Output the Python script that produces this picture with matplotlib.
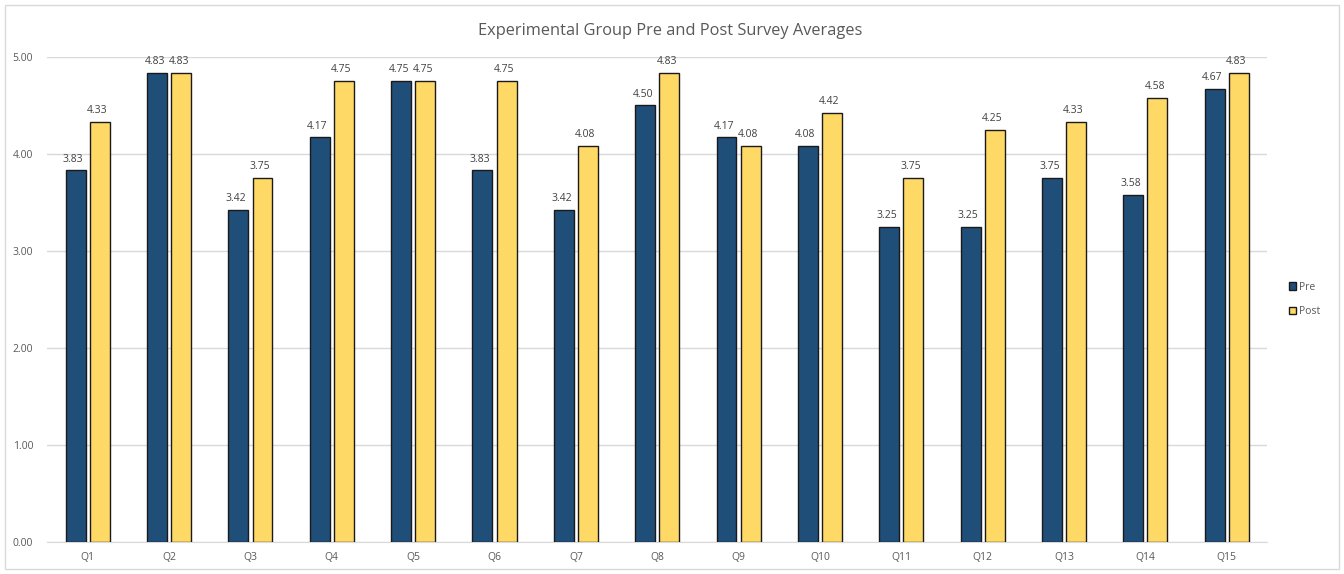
import matplotlib.pyplot as plt
import numpy as np
from matplotlib.patches import Rectangle

questions = [f"Q{i}" for i in range(1, 16)]
pre = [3.83, 4.83, 3.42, 4.17, 4.75, 3.83, 3.42, 4.50, 4.17, 4.08, 3.25, 3.25, 3.75, 3.58, 4.67]
post = [4.33, 4.83, 3.75, 4.75, 4.75, 4.75, 4.08, 4.83, 4.08, 4.42, 3.75, 4.25, 4.33, 4.58, 4.83]

plt.rcParams['font.family'] = ['Open Sans', 'DejaVu Sans']

fig = plt.figure(figsize=(13.44, 5.74), dpi=100)
ax = fig.add_axes([0.035, 0.056, 0.908, 0.845])

x = np.arange(len(questions))
w = 0.245
off = 0.148
text_col = '#595959'

b1 = ax.bar(x - off, pre, w, color='#1F4E79', edgecolor='#1a1a1a', linewidth=1.0, label='Pre', zorder=3)
b2 = ax.bar(x + off, post, w, color='#FFD966', edgecolor='#1a1a1a', linewidth=1.0, label='Post', zorder=3)

for bars, vals in [(b1, pre), (b2, post)]:
    for rect, v in zip(bars, vals):
        ax.text(rect.get_x() + rect.get_width() / 2 - 0.03, v + 0.06, f"{v:.2f}",
                ha='center', va='bottom', fontsize=7.5, color='#404040')

ax.set_xlim(-0.5, len(questions) - 0.5)
ax.set_ylim(0, 5)
ax.set_yticks(np.arange(0, 5.01, 1))
ax.set_yticklabels([f"{t:.2f}" for t in np.arange(0, 5.01, 1)])
ax.set_xticks(x)
ax.set_xticklabels(questions)
ax.tick_params(axis='both', length=0, labelsize=7.5, colors=text_col)
ax.tick_params(axis='x', pad=7)
ax.tick_params(axis='y', pad=10)

ax.grid(axis='y', color='#D9D9D9', linewidth=1.0, zorder=0)
for s in ['top', 'right', 'left']:
    ax.spines[s].set_visible(False)
ax.spines['bottom'].set_color('#D9D9D9')

fig.text(0.499, 0.946, 'Experimental Group Pre and Post Survey Averages',
         ha='center', va='center', fontsize=11.8, color=text_col)

ax.legend(loc='center left', bbox_to_anchor=(1.01, 0.5), frameon=False,
          fontsize=7.5, labelcolor=text_col, handlelength=0.7, handleheight=0.7,
          handletextpad=0.3, labelspacing=1.3)

fig.add_artist(Rectangle((0.004, 0.008), 0.992, 0.984, transform=fig.transFigure,
                         fill=False, edgecolor='#D9D9D9', linewidth=1.0))

fig.savefig('out.png', dpi=100, facecolor='white')
